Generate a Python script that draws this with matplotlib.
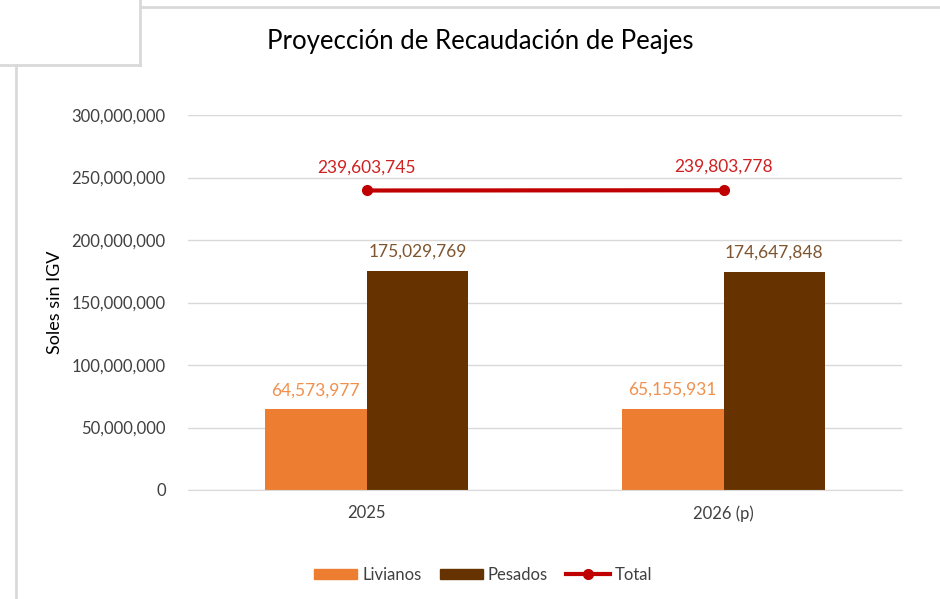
import numpy as np
import matplotlib
matplotlib.use("Agg")
import matplotlib.pyplot as plt
from matplotlib.lines import Line2D

plt.rcParams['font.family'] = ['Lato', 'DejaVu Sans']

categories = ['2025', '2026 (p)']
livianos = [64573977, 65155931]
pesados = [175029769, 174647848]
total = [239603745, 239803778]

c_liv = '#ED7D31'
c_pes = '#663300'
c_tot = '#C00000'
grid_c = '#D9D9D9'
text_c = '#404040'

fig = plt.figure(figsize=(9.4, 5.99), dpi=100)
ax = fig.add_axes([188 / 940, 1 - 490 / 599, 714 / 940, 375 / 599])

x = np.arange(len(categories))
w = 0.285
ax.bar(x - w / 2, livianos, w, color=c_liv, zorder=2, label='Livianos')
ax.bar(x + w / 2, pesados, w, color=c_pes, zorder=2, label='Pesados')
ax.plot(x, total, color=c_tot, lw=3, marker='o', ms=7, zorder=3, label='Total')

fmt = lambda v: f'{v:,.0f}'
lab_fs = 12.5
for xi, v in zip(x, livianos):
    ax.annotate(fmt(v), (xi - w / 2, v), xytext=(0, 8), textcoords='offset points',
                ha='center', va='bottom', color='#F0904E', fontsize=lab_fs)
for xi, v in zip(x, pesados):
    ax.annotate(fmt(v), (xi + w / 2, v), xytext=(0, 8), textcoords='offset points',
                ha='center', va='bottom', color='#7F5530', fontsize=lab_fs)
for xi, v in zip(x, total):
    ax.annotate(fmt(v), (xi, v), xytext=(0, 11), textcoords='offset points',
                ha='center', va='bottom', color='#D02020', fontsize=lab_fs)

ax.set_xlim(-0.5, 1.5)
ax.set_ylim(0, 300000000)
ax.set_yticks(np.arange(0, 300000001, 50000000))
ax.yaxis.set_major_formatter(matplotlib.ticker.FuncFormatter(lambda v, p: fmt(v)))
ax.set_xticks(x)
ax.set_xticklabels(categories)
ax.tick_params(axis='both', length=0, labelsize=12, labelcolor=text_c)
ax.tick_params(axis='y', pad=16)
ax.tick_params(axis='x', pad=11)
ax.grid(axis='y', color=grid_c, lw=1, zorder=0)
for s in ['top', 'right', 'left']:
    ax.spines[s].set_visible(False)
ax.spines['bottom'].set_color(grid_c)
ax.set_ylabel('Soles sin IGV', fontsize=13, color='black', labelpad=6)

fig.text(480 / 940, 1 - 42 / 599, 'Proyección de Recaudación de Peajes',
         ha='center', va='center', fontsize=18.5, color='black')

handles = [plt.Rectangle((0, 0), 1, 1, color=c_liv),
           plt.Rectangle((0, 0), 1, 1, color=c_pes),
           Line2D([0], [0], color=c_tot, lw=3, marker='o', ms=7)]
fig.legend(handles, ['Livianos', 'Pesados', 'Total'], loc='center',
           bbox_to_anchor=(483 / 940, 1 - 575 / 599), ncol=3, frameon=False,
           fontsize=12, handlelength=2.6, handleheight=0.6, columnspacing=1.1,
           handletextpad=0.3, labelcolor=text_c)

# borders of overlapping chart frames
lc = '#D9D9D9'
fig.add_artist(Line2D([16 / 940, 16 / 940], [0, 1 - 65 / 599], color=lc, lw=2))
fig.add_artist(Line2D([0, 140 / 940], [1 - 65 / 599, 1 - 65 / 599], color=lc, lw=2))
fig.add_artist(Line2D([140 / 940, 140 / 940], [1 - 65 / 599, 1], color=lc, lw=2))
fig.add_artist(Line2D([140 / 940, 1], [1 - 7 / 599, 1 - 7 / 599], color=lc, lw=2))

fig.savefig('out.png', dpi=100)
